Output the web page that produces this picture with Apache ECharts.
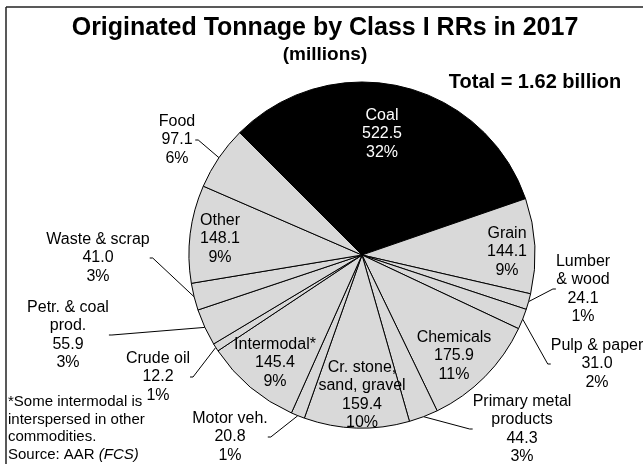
<!DOCTYPE html>
<html>
<head>
<meta charset="utf-8">
<script src="https://cdn.jsdelivr.net/npm/echarts@6/dist/echarts.min.js"></script>
<style>
  html, body { margin: 0; padding: 0; background: #fff; }
  #chart { width: 643px; height: 464px; }
</style>
</head>
<body>
<div id="chart"></div>
<script>
// commodity groups, clockwise from Coal
const categories = ['Coal', 'Grain', 'Lumber\n& wood', 'Pulp & paper', 'Chemicals',
  'Primary metal\nproducts', 'Cr. stone,\nsand, gravel', 'Motor veh.', 'Intermodal*',
  'Crude oil', 'Petr. & coal\nprod.', 'Waste & scrap', 'Other', 'Food'];
const tonnage = [522.5, 144.1, 24.1, 31.0, 175.9, 44.3, 159.4, 20.8, 145.4, 12.2, 55.9, 41.0, 148.1, 97.1];

// where each label block sits (centre), and which ones get a leader line
const labelPos = [[382, 134], [507, 252], [583, 289], [597, 364], [454, 356], [522, 429],
  [362, 395], [230, 437], [275, 363], [158, 377], [68, 335], [98, 258], [220, 239], [177, 140]];
const outside = [false, false, true, true, false, true, false, true, false, true, true, true, false, true];

const FONT = '"Liberation Sans", Arial, sans-serif';
const total = tonnage.reduce((a, b) => a + b, 0);

const pieData = categories.map((name, i) => ({
  name: name,
  value: tonnage[i],
  itemStyle: { color: i === 0 ? '#000000' : '#d9d9d9' },
  label: { color: i === 0 ? '#ffffff' : '#000000' },
  labelLine: { show: outside[i] }
}));

const chart = echarts.init(document.getElementById('chart'));
chart.setOption({
  animation: false,
  backgroundColor: '#ffffff',
  graphic: [
    { type: 'line', shape: { x1: 6, y1: 7, x2: 643, y2: 7 }, style: { stroke: '#222', lineWidth: 1.5 } },
    { type: 'line', shape: { x1: 6, y1: 7, x2: 6, y2: 464 }, style: { stroke: '#222', lineWidth: 1.5 } },
    { type: 'text', x: 325, y: 28, style: { text: 'Originated Tonnage by Class I RRs in 2017',
      font: 'bold 25px ' + FONT, fill: '#000', align: 'center', verticalAlign: 'middle' } },
    { type: 'text', x: 325, y: 55, style: { text: '(millions)',
      font: 'bold 19px ' + FONT, fill: '#000', align: 'center', verticalAlign: 'middle' } },
    { type: 'text', x: 535, y: 82, style: { text: 'Total = 1.62 billion',
      font: 'bold 20px ' + FONT, fill: '#000', align: 'center', verticalAlign: 'middle' } },
    { type: 'text', x: 8, y: 393, style: {
      text: '*Some intermodal is\ninterspersed in other\ncommodities.\nSource: AAR {i|(FCS)}',
      font: '15px ' + FONT, fill: '#000', lineHeight: 17.7,
      rich: { i: { fontStyle: 'italic', fontSize: 15, fontFamily: FONT, lineHeight: 17.7 } } } }
  ],
  series: [{
    type: 'pie',
    center: [362, 255],
    radius: 173,
    startAngle: 135,
    clockwise: true,
    avoidLabelOverlap: false,
    emphasis: { disabled: true },
    itemStyle: { borderColor: '#000', borderWidth: 1 },
    label: {
      position: 'outside',
      fontFamily: FONT,
      fontSize: 16,
      lineHeight: 18.5,
      align: 'center',
      formatter: p => p.name + '\n' + p.value.toFixed(1) + '\n' + Math.round(p.value / total * 100) + '%'
    },
    labelLine: { length: 10, length2: 3, lineStyle: { color: '#000', width: 1 } },
    labelLayout: p => ({
      x: labelPos[p.dataIndex][0],
      y: labelPos[p.dataIndex][1],
      align: 'center',
      verticalAlign: 'middle'
    }),
    data: pieData
  }]
});
</script>
</body>
</html>
